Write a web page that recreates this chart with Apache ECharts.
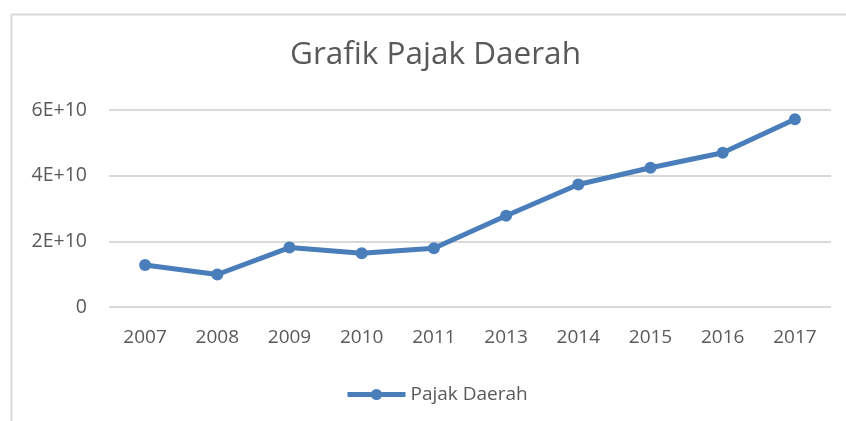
<!DOCTYPE html>
<html lang="en">
<head>
    <meta charset="UTF-8">
    <title>Grafik Pajak Daerah</title>
    <script src="https://cdn.jsdelivr.net/npm/echarts@6/dist/echarts.min.js"></script>
    <style>
        html, body { margin: 0; padding: 0; background: #ffffff; }
        #chart { width: 846px; height: 421px; }
    </style>
</head>
<body>
    <div id="chart"></div>
    <script>
        var years = ["2007", "2008", "2009", "2010", "2011", "2013", "2014", "2015", "2016", "2017"]
        var pajakDaerah = [1.28e10, 0.99e10, 1.81e10, 1.635e10, 1.79e10, 2.78e10, 3.73e10, 4.24e10, 4.70e10, 5.72e10]
        var yTicks = ["0", "2E+10", "4E+10", "6E+10"]

        var chart = echarts.init(document.getElementById('chart'));
        var font = '"Open Sans", "Liberation Sans", sans-serif';

        chart.setOption({
            animation: false,
            title: {
                text: 'Grafik Pajak Daerah',
                left: 285,
                top: 34,
                textStyle: {
                    fontFamily: font,
                    fontSize: 31.5,
                    fontWeight: 'normal',
                    color: '#595959'
                }
            },
            graphic: [{
                // chart area border (runs off the right/bottom edge)
                type: 'rect',
                left: 9,
                top: 12,
                shape: { width: 900, height: 500 },
                style: { fill: 'none', stroke: '#d9d9d9', lineWidth: 2 },
                silent: true
            }],
            grid: {
                left: 109,
                right: 15,
                top: 110,
                bottom: 114
            },
            legend: {
                data: ['Pajak Daerah'],
                left: 340,
                top: 380,
                itemWidth: 58,
                itemHeight: 14,
                itemGap: 3,
                lineStyle: { width: 5, color: '#4a7ebb' },
                itemStyle: { color: '#4a7ebb' },
                textStyle: {
                    fontFamily: font,
                    fontSize: 19,
                    color: '#595959'
                }
            },
            xAxis: {
                type: 'category',
                data: years,
                boundaryGap: true,
                axisLine: { show: false },
                axisTick: { show: false },
                axisLabel: {
                    margin: 21,
                    fontFamily: font,
                    fontSize: 19,
                    color: '#595959'
                }
            },
            yAxis: {
                type: 'value',
                min: 0,
                max: 6e10,
                interval: 2e10,
                axisLine: { show: false },
                axisTick: { show: false },
                axisLabel: {
                    margin: 22,
                    fontFamily: font,
                    fontSize: 19.5,
                    color: '#595959',
                    formatter: function (v) {
                        return yTicks[Math.round(v / 2e10)]
                    }
                },
                splitLine: {
                    lineStyle: { color: '#d9d9d9', width: 2 }
                }
            },
            series: [{
                name: 'Pajak Daerah',
                type: 'line',
                data: pajakDaerah,
                symbol: 'circle',
                symbolSize: 12,
                lineStyle: { color: '#4a7ebb', width: 5 },
                itemStyle: { color: '#4a7ebb' }
            }]
        });
    </script>
</body>
</html>
